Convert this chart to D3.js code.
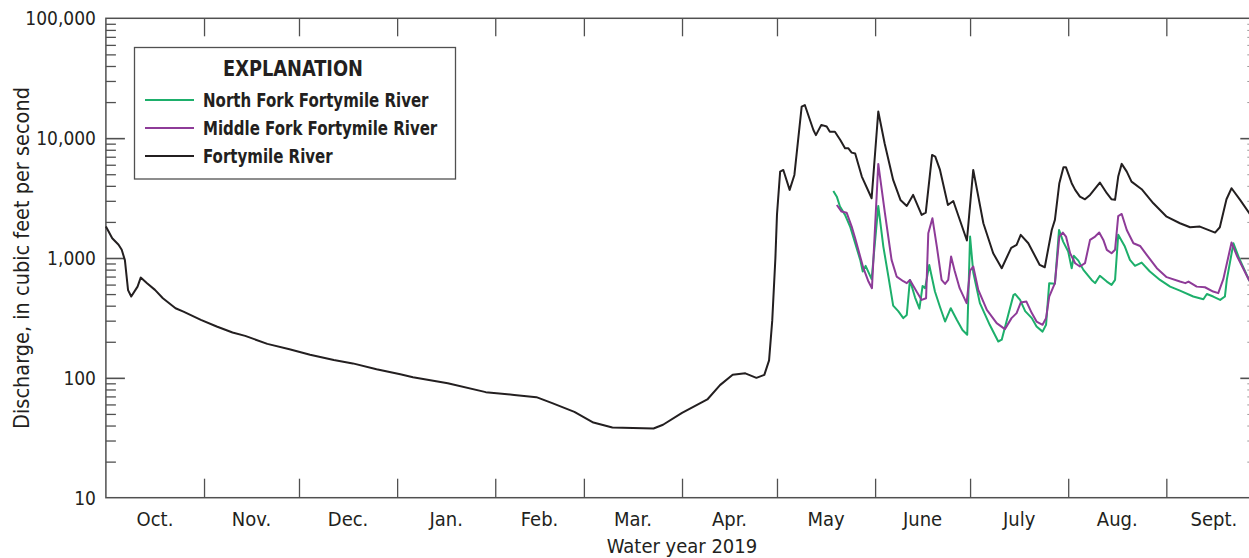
<!DOCTYPE html>
<html>
<head>
<meta charset="utf-8">
<script src="https://cdn.jsdelivr.net/npm/d3@7"></script>
<style>
  body { margin: 0; background: #fff; }
  text { font-family: "Liberation Sans Narrow", "DejaVu Sans Condensed", "Roboto", sans-serif; fill: #231f20; }
</style>
</head>
<body>
<script>
// day of water year (0 = Oct. 1, 2018) and discharge, cubic feet per second
const fortymileDay = [0, 2, 4, 5, 6, 7, 8, 10, 11, 13, 15.5, 18, 22, 24.5, 30, 35, 40, 44, 51, 58, 64.5, 72, 78, 85.5, 93, 97, 108, 120, 129, 136, 141, 148, 154, 160, 173, 176, 182, 190, 194, 198, 202, 205.5, 208, 209.5, 210.5, 211.5, 212, 213, 214, 216, 217.5, 219.8, 220.8, 223.5, 224.3, 226, 227.7, 228.7, 230.3, 232, 233.5, 234.5, 235.6, 236.7, 238.8, 241.9, 244, 246, 248.7, 251, 253, 255, 257.7, 259, 261, 262, 263.5, 266, 267.7, 272, 274, 277.2, 280.3, 283, 286, 287.7, 289, 291.4, 295, 296.6, 298.8, 299.8, 301.2, 302.5, 303.3, 305.1, 306.2, 307.7, 309.3, 310.9, 314, 316.2, 317.7, 318.8, 319.8, 320.9, 322.5, 324, 327.2, 330.9, 335.1, 339.3, 342.5, 345.6, 350.4, 351.9, 354, 355.6, 358.3, 361.1, 363, 365];
const fortymileCfs = [1830, 1460, 1290, 1170, 960, 540, 477, 577, 686, 616, 542, 462, 381, 357, 305, 268, 239, 224, 192, 173, 156, 141, 132, 118, 107, 101, 90, 76, 72, 69, 61.5, 52, 42.4, 38.5, 37.8, 40.6, 51, 66, 87, 106, 109, 100, 106, 140, 300, 1000, 2300, 5260, 5430, 3700, 4930, 18300, 18900, 11700, 10600, 12900, 12500, 11300, 11300, 9660, 8240, 8240, 7570, 7460, 4780, 3150, 16700, 9060, 4480, 3050, 2720, 3360, 2290, 2390, 7240, 7020, 5430, 2770, 2990, 1400, 5430, 1950, 1096, 822, 1216, 1285, 1560, 1327, 875, 837, 1714, 2080, 4210, 5710, 5710, 4210, 3700, 3250, 3090, 3360, 4260, 3470, 3090, 3060, 4780, 6100, 5260, 4340, 3750, 2860, 2210, 1950, 1805, 1828, 1630, 1805, 3090, 3820, 3050, 2390, 2000, 1800];

const northForkDay = [229.8, 230.9, 231.9, 233.5, 235.1, 236.7, 238.3, 239.1, 240, 241.9, 244, 245.6, 247.2, 248.7, 250.3, 251.9, 253, 254, 255.6, 257, 258, 258.8, 260.1, 261.9, 263.5, 265.1, 266.9, 268.8, 270.6, 272.1, 273, 274, 276.1, 279.2, 281.9, 283, 285.1, 286.7, 287.2, 288.8, 290.4, 292.5, 294, 295.9, 297, 298, 299.8, 301.1, 302.4, 304, 305.1, 305.8, 307.2, 308.8, 311.4, 312.5, 314, 316.2, 317.7, 318.8, 319.8, 321.9, 323.5, 325.1, 327.2, 329.8, 333, 336.2, 339.3, 343.5, 346.7, 347.8, 349.8, 352, 353.5, 354.1, 356.2, 358, 361.1, 363, 365];
const northForkCfs = [3630, 3250, 2690, 2290, 1830, 1330, 964, 771, 860, 666, 2720, 1245, 700, 400, 360, 315, 335, 656, 470, 378, 585, 560, 875, 525, 390, 295, 381, 305, 251, 229, 1511, 760, 420, 277, 201, 208, 340, 490, 501, 447, 360, 315, 268, 243, 277, 617, 610, 1714, 1370, 1132, 822, 1042, 951, 796, 656, 617, 710, 636, 597, 656, 1560, 1245, 964, 860, 916, 771, 656, 577, 534, 477, 453, 501, 477, 447, 477, 656, 1327, 995, 656, 560, 520];

const middleForkDay = [230.9, 232.4, 234, 235.6, 236.7, 237.7, 239.3, 240.9, 242, 244, 246.1, 248.2, 249.8, 251.9, 253, 254, 256.1, 257.7, 259.1, 259.8, 261.1, 262.5, 264, 265.1, 266.1, 267, 268.1, 269.7, 271.9, 273, 274, 275.6, 278.3, 281.4, 284, 286.1, 287.7, 289, 290.8, 292.5, 294, 295.9, 297, 298, 299.8, 301.2, 302.3, 303.3, 304.6, 306.2, 307.7, 309.3, 310.9, 312.5, 313.8, 315.1, 316.2, 317.7, 318.8, 319.8, 320.9, 322.5, 324.6, 326.7, 328.8, 332, 335.1, 339.3, 341, 342, 344.6, 347.2, 349.8, 351.4, 353, 355.6, 357.4, 361.1, 363, 365];
const middleForkCfs = [2770, 2440, 2390, 1830, 1460, 1170, 822, 636, 560, 6100, 2370, 964, 700, 640, 617, 656, 525, 447, 462, 1610, 2150, 1245, 656, 608, 656, 1028, 786, 560, 420, 786, 849, 542, 369, 286, 255, 315, 347, 425, 433, 347, 295, 277, 315, 477, 617, 1510, 1630, 1510, 1096, 905, 849, 905, 1416, 1510, 1630, 1416, 1170, 1096, 1170, 2240, 2330, 1714, 1327, 1260, 1062, 822, 692, 636, 617, 636, 577, 570, 525, 509, 666, 1345, 1028, 656, 560, 520];

const monthLabels = ["Oct.", "Nov.", "Dec.", "Jan.", "Feb.", "Mar.", "Apr.", "May", "June", "July", "Aug.", "Sept."];
const yTickValues = [10, 100, 1000, 10000, 100000];

const seriesNames = ["North Fork Fortymile River", "Middle Fork Fortymile River", "Fortymile River"];
const seriesColors = ["#1daf6b", "#8e3b98", "#231f20"];

const width = 1249, height = 558;
const plotLeft = 105.9, plotRight = 1261.3, plotTop = 18.3, plotBottom = 497.7;

const startDate = new Date(2018, 9, 1);
const endDate = new Date(2019, 9, 1);
const toDate = d => new Date(startDate.getTime() + d * 864e5);

const svg = d3.select("body")
    .append("svg")
    .attr("width", width)
    .attr("height", height);

const x = d3.scaleTime().domain([startDate, endDate]).range([plotLeft, plotRight]);
const y = d3.scaleLog().domain([10, 100000]).range([plotBottom, plotTop]);

const axisColor = "#505050";

// minor ticks for the log axis
const minorTicks = [];
for (let p = 10; p < 100000; p *= 10) {
    for (let k = 2; k <= 9; k++) minorTicks.push(p * k);
}

// left axis
svg.append("g")
    .attr("transform", `translate(${plotLeft},0)`)
    .call(d3.axisRight(y).tickValues(minorTicks).tickSize(10).tickFormat(""))
    .call(g => g.select(".domain").remove())
    .call(g => g.selectAll("line").attr("stroke", axisColor).attr("stroke-width", 1.3));

svg.append("g")
    .attr("transform", `translate(${plotLeft},0)`)
    .call(d3.axisRight(y).tickValues(yTickValues.slice(1, 4)).tickSize(19).tickFormat(""))
    .call(g => g.select(".domain").remove())
    .call(g => g.selectAll("line").attr("stroke", axisColor).attr("stroke-width", 1.6));

svg.append("g")
    .selectAll("text")
    .data(yTickValues)
    .enter()
    .append("text")
    .attr("x", 96)
    .attr("y", d => y(d))
    .attr("dy", "0.36em")
    .attr("text-anchor", "end")
    .attr("font-size", 19)
    .text(d => d3.format(",")(d));

// right axis (mostly off the picture)
svg.append("g")
    .attr("transform", `translate(${plotRight},0)`)
    .call(d3.axisLeft(y).tickValues(minorTicks).tickSize(14).tickFormat(""))
    .call(g => g.select(".domain").remove())
    .call(g => g.selectAll("line").attr("stroke", "#9a9a9a").attr("stroke-width", 1));

svg.append("g")
    .attr("transform", `translate(${plotRight},0)`)
    .call(d3.axisLeft(y).tickValues(yTickValues.slice(1, 4)).tickSize(21).tickFormat(""))
    .call(g => g.select(".domain").remove())
    .call(g => g.selectAll("line").attr("stroke", axisColor).attr("stroke-width", 1.6));

// month ticks top and bottom
const months = d3.timeMonth.range(startDate, endDate);
const monthBounds = months.slice(1);

svg.append("g")
    .attr("transform", `translate(0,${plotBottom})`)
    .call(d3.axisTop(x).tickValues(monthBounds).tickSize(19).tickFormat(""))
    .call(g => g.select(".domain").remove())
    .call(g => g.selectAll("line").attr("stroke", axisColor).attr("stroke-width", 1.3));

svg.append("g")
    .attr("transform", `translate(0,${plotTop})`)
    .call(d3.axisBottom(x).tickValues(monthBounds).tickSize(18).tickFormat(""))
    .call(g => g.select(".domain").remove())
    .call(g => g.selectAll("line").attr("stroke", axisColor).attr("stroke-width", 1.3));

svg.append("g")
    .selectAll("text")
    .data(months)
    .enter()
    .append("text")
    .attr("x", d => x(new Date((d.getTime() + d3.timeMonth.offset(d, 1).getTime()) / 2)))
    .attr("y", 526)
    .attr("text-anchor", "middle")
    .attr("font-size", 20)
    .text((d, i) => monthLabels[i]);

// frame
svg.append("rect")
    .attr("x", plotLeft)
    .attr("y", plotTop)
    .attr("width", plotRight - plotLeft)
    .attr("height", plotBottom - plotTop)
    .attr("fill", "none")
    .attr("stroke", axisColor)
    .attr("stroke-width", 1.5);

// axis titles
svg.append("text")
    .attr("transform", `translate(29,258) rotate(-90)`)
    .attr("text-anchor", "middle")
    .attr("font-size", 21.5)
    .text("Discharge, in cubic feet per second");

svg.append("text")
    .attr("x", 682)
    .attr("y", 553)
    .attr("text-anchor", "middle")
    .attr("font-size", 20)
    .text("Water year 2019");

// lines
const line = d3.line()
    .x(d => x(toDate(d[0])))
    .y(d => y(d[1]));

const series = [
    d3.zip(northForkDay, northForkCfs),
    d3.zip(middleForkDay, middleForkCfs),
    d3.zip(fortymileDay, fortymileCfs)
];

svg.append("g")
    .selectAll("path")
    .data([series[2], series[0], series[1]])
    .enter()
    .append("path")
    .attr("d", line)
    .attr("fill", "none")
    .attr("stroke", (d, i) => [seriesColors[2], seriesColors[0], seriesColors[1]][i])
    .attr("stroke-width", 2)
    .attr("stroke-linejoin", "round");

// legend
const legend = svg.append("g");

legend.append("rect")
    .attr("x", 134.5)
    .attr("y", 47.5)
    .attr("width", 321)
    .attr("height", 131.5)
    .attr("fill", "#fff")
    .attr("stroke", axisColor)
    .attr("stroke-width", 1.3);

// condensed bold text: squeeze horizontally
legend.append("text")
    .attr("transform", "translate(293,76) scale(0.9,1)")
    .attr("text-anchor", "middle")
    .attr("font-size", 22)
    .attr("font-weight", "bold")
    .text("EXPLANATION");

const items = legend.selectAll(".item")
    .data(seriesNames)
    .enter()
    .append("g")
    .attr("transform", (d, i) => `translate(0,${100 + i * 28})`);

items.append("line")
    .attr("x1", 145)
    .attr("x2", 194)
    .attr("stroke", (d, i) => seriesColors[i])
    .attr("stroke-width", 1.8);

items.append("text")
    .attr("transform", "translate(203,7) scale(0.835,1)")
    .attr("font-size", 20)
    .attr("font-weight", "bold")
    .text(d => d);
</script>
</body>
</html>
